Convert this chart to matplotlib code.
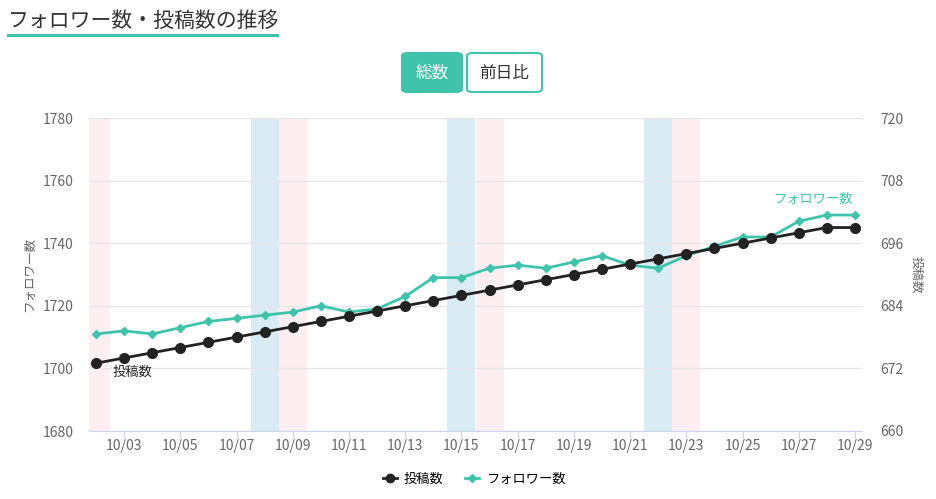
import datetime as dt
import matplotlib
matplotlib.use("Agg")
import matplotlib.pyplot as plt
import matplotlib.dates as mdates
from matplotlib.patches import FancyBboxPatch
from matplotlib.lines import Line2D

plt.rcParams['font.family'] = ['Noto Sans CJK JP', 'DejaVu Sans']

# data (Oct 2022)
days = list(range(2, 30))
followers = [1711, 1712, 1711, 1713, 1715, 1716, 1717, 1718, 1720, 1718,
             1719, 1723, 1729, 1729, 1732, 1733, 1732, 1734, 1736, 1733,
             1732, 1736, 1739, 1742, 1742, 1747, 1749, 1749]
posts = [673, 674, 675, 676, 677, 678, 679, 680, 681, 682,
         683, 684, 685, 686, 687, 688, 689, 690, 691, 692,
         693, 694, 695, 696, 697, 698, 699, 699]
saturdays = [8, 15, 22]
sundays = [2, 9, 16, 23]
follower_ticks = [1680, 1700, 1720, 1740, 1760, 1780]
post_ticks = [660, 672, 684, 696, 708, 720]

TEAL = '#3fc4ab'
BLACK = '#222222'
GRID = '#e6e6e6'
AXIS = '#ccd6eb'
LABEL = '#666666'

dates = [dt.datetime(2022, 10, d) for d in days]

fig = plt.figure(figsize=(9.36, 4.99), dpi=100)
ax = fig.add_axes([89 / 936, 1 - 431 / 499, (862 - 89) / 936, 313 / 499])
ax2 = ax.twinx()

half = dt.timedelta(hours=12)
for d in saturdays:
    c = dt.datetime(2022, 10, d)
    ax.axvspan(c - half, c + half, color='#d9ebf5', lw=0, zorder=0)
for d in sundays:
    c = dt.datetime(2022, 10, d)
    ax.axvspan(c - half, c + half, color='#fdeef2', lw=0, zorder=0)

ax.plot(dates, followers, color=TEAL, lw=2, marker='D', ms=4.5, zorder=3)
ax2.plot(dates, posts, color=BLACK, lw=2, marker='o', ms=7, zorder=3)

ax.set_xlim(dt.datetime(2022, 10, 1, 18), dt.datetime(2022, 10, 29, 6))
ax.set_ylim(1680, 1780)
ax2.set_ylim(660, 720)
ax.set_yticks(follower_ticks)
ax2.set_yticks(post_ticks)

ax.xaxis.set_major_locator(mdates.DayLocator(bymonthday=list(range(3, 30, 2))))
ax.xaxis.set_major_formatter(mdates.DateFormatter('%m/%d'))

ax.grid(axis='y', color=GRID, lw=1)
ax.set_axisbelow(True)
for a in (ax, ax2):
    for s in a.spines.values():
        s.set_visible(False)
ax.spines['bottom'].set_visible(True)
ax.spines['bottom'].set_color(AXIS)
ax.tick_params(axis='x', colors=AXIS, labelcolor=LABEL, length=5, labelsize=10, pad=1)
ax.tick_params(axis='y', length=0, labelcolor=LABEL, labelsize=10, pad=11)
ax2.tick_params(axis='y', length=0, labelcolor=LABEL, labelsize=10, pad=13)

ax.set_ylabel('フォロワー数', color=LABEL, fontsize=9, labelpad=5)
ax2.set_ylabel('投稿数', color=LABEL, fontsize=9, rotation=-90, labelpad=14)
ax2.set_zorder(ax.get_zorder() + 1)
ax2.patch.set_visible(False)

ax2.text(dates[0] + dt.timedelta(hours=14), posts[0] - 0.6, '投稿数',
         fontsize=9.5, color=BLACK, va='top', ha='left')
ax.text(dates[-1] - dt.timedelta(hours=2), followers[-1] + 2.8, 'フォロワー数', fontsize=9.5,
        color=TEAL, ha='right', va='bottom')

# heading and toggle buttons
fig.text(8 / 936, 1 - 21 / 499, 'フォロワー数・投稿数の推移', fontsize=15,
         color='#333333', va='center', ha='left')
fig.add_artist(Line2D([8 / 936, 277 / 936], [1 - 35 / 499] * 2,
                      color=TEAL, lw=2.2))
fig.add_artist(FancyBboxPatch((402 / 936, 1 - 92 / 499), 60 / 936, 39 / 499,
                              boxstyle='round,pad=0,rounding_size=0.006',
                              fc=TEAL, ec=TEAL, lw=1.5))
fig.add_artist(FancyBboxPatch((467 / 936, 1 - 92 / 499), 75 / 936, 39 / 499,
                              boxstyle='round,pad=0,rounding_size=0.006',
                              fc='white', ec=TEAL, lw=1.5))
fig.text(432 / 936, 1 - 73 / 499, '総数', fontsize=12, color='white',
         ha='center', va='center')
fig.text(504.5 / 936, 1 - 73 / 499, '前日比', fontsize=12, color='#333333',
         ha='center', va='center')

handles = [Line2D([], [], color=BLACK, lw=2, marker='o', ms=6),
           Line2D([], [], color=TEAL, lw=2, marker='D', ms=4.5)]
fig.legend(handles, ['投稿数', 'フォロワー数'], loc='center',
           bbox_to_anchor=(474 / 936, 1 - 479 / 499), ncol=2, frameon=False,
           fontsize=9.5, handlelength=1.1, columnspacing=1.6, handletextpad=0.5)

fig.savefig('out.png', dpi=100)
